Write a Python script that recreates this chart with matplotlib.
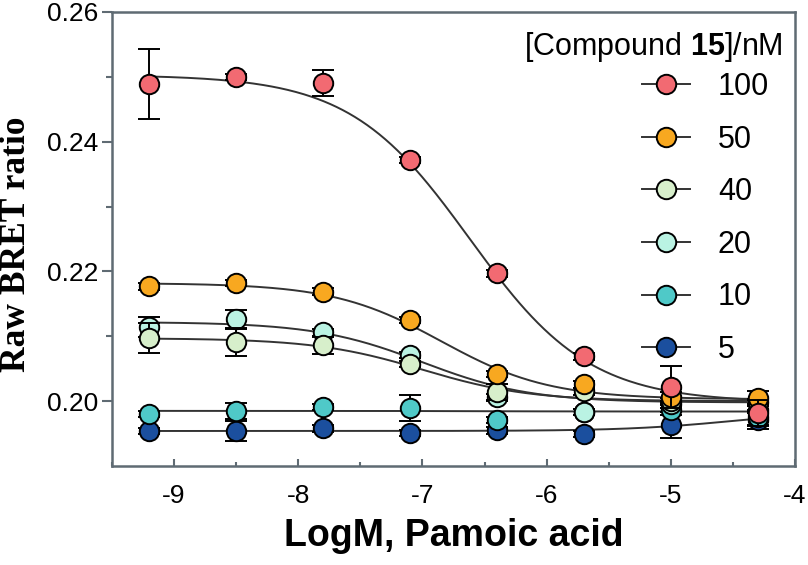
import numpy as np
import matplotlib
matplotlib.use('Agg')
import matplotlib.pyplot as plt
from matplotlib.lines import Line2D

plt.rcParams['font.family'] = ['Liberation Sans', 'DejaVu Sans']
plt.rcParams['mathtext.fontset'] = 'custom'
plt.rcParams['mathtext.rm'] = 'Liberation Sans'
plt.rcParams['mathtext.bf'] = 'Liberation Sans:bold'

# log concentration of pamoic acid
log_conc = [-9.2, -8.5, -7.8, -7.1, -6.4, -5.7, -5.0, -4.3]

labels = ['100', '50', '40', '20', '10', '5']
colors = ['#f26a72', '#f8a820', '#d7efcb', '#baf3e3', '#4fc9c8', '#1b4f9e']

# mean raw BRET ratio per compound 15 concentration
y_100 = [0.2489, 0.2500, 0.2491, 0.2372, 0.2197, 0.2069, 0.2022, 0.1982]
y_50 = [0.2177, 0.2182, 0.2169, 0.2125, 0.2042, 0.2026, 0.2006, 0.2005]
y_40 = [0.2097, 0.2091, 0.2086, 0.2057, 0.2014, 0.2015, 0.2000, 0.1998]
y_20 = [0.2114, 0.2126, 0.2106, 0.2071, 0.2006, 0.1983, 0.1995, 0.1987]
y_10 = [0.1980, 0.1985, 0.1991, 0.1989, 0.1971, 0.1983, 0.1986, 0.1975]
y_5 = [0.1954, 0.1954, 0.1958, 0.1951, 0.1955, 0.1949, 0.1963, 0.1971]

# error bars (SEM)
e_100 = [0.0054, 0.0005, 0.0020, 0.0005, 0.0005, 0.0005, 0.0032, 0.0020]
e_50 = [0.0005, 0.0005, 0.0005, 0.0005, 0.0005, 0.0005, 0.0008, 0.0010]
e_40 = [0.0023, 0.0022, 0.0013, 0.0005, 0.0012, 0.0005, 0.0005, 0.0005]
e_20 = [0.0015, 0.0014, 0.0005, 0.0005, 0.0005, 0.0005, 0.0005, 0.0005]
e_10 = [0.0005, 0.0012, 0.0005, 0.0020, 0.0005, 0.0005, 0.0008, 0.0012]
e_5 = [0.0005, 0.0016, 0.0005, 0.0005, 0.0005, 0.0005, 0.0020, 0.0014]

# fitted curve parameters: top, bottom, logIC50, hill
fit_100 = [0.2503, 0.1998, -6.62, 0.9]
fit_50 = [0.2182, 0.2003, -6.85, 1.0]
fit_40 = [0.2097, 0.2000, -7.0, 1.0]
fit_20 = [0.2122, 0.1998, -7.0, 1.0]
fit_10 = [0.1985, 0.1984, -6.5, 1.0]
fit_5 = [0.1954, 0.1985, -4.5, 1.0]

ys = [y_100, y_50, y_40, y_20, y_10, y_5]
errs = [e_100, e_50, e_40, e_20, e_10, e_5]
fits = [fit_100, fit_50, fit_40, fit_20, fit_10, fit_5]


def logistic(x, top, bottom, ic50, hill):
    return bottom + (top - bottom) / (1 + 10 ** ((x - ic50) * hill))


fig = plt.figure(figsize=(8.08, 5.65), dpi=100)
ax = fig.add_axes([0.1386, 0.1752, 0.8453, 0.8036])

xs = np.linspace(log_conc[0], log_conc[-1], 300)
for fit in fits:
    ax.plot(xs, logistic(xs, *fit), color='#333333', lw=1.4, zorder=2)

# low concentrations first so the higher ones sit on top
for i in reversed(range(len(labels))):
    z = 3 + (len(labels) - i) * 2
    ax.errorbar(log_conc, ys[i], yerr=errs[i], fmt='none', ecolor='black',
                elinewidth=1.4, capsize=8, capthick=1.4, zorder=z)
    ax.plot(log_conc, ys[i], 'o', ms=14, mfc=colors[i], mec='black',
            mew=1.4, zorder=z + 1)

ax.set_xlim(-9.5, -4)
ax.set_ylim(0.19, 0.26)
ax.set_xticks([-9, -8, -7, -6, -5, -4])
ax.set_xticklabels(['-9', '-8', '-7', '-6', '-5', '-4'])
ax.set_xticks(np.arange(-9.5, -4, 0.5), minor=True)
ax.set_yticks([0.20, 0.22, 0.24, 0.26])
ax.set_yticklabels(['0.20', '0.22', '0.24', '0.26'])
ax.set_yticks([0.21, 0.23, 0.25], minor=True)

for sp in ax.spines.values():
    sp.set_color('#5f6b73')
    sp.set_linewidth(1.8)

ax.tick_params(axis='x', which='major', direction='in', length=5, width=1.5,
               color='#5f6b73', labelsize=19, pad=13)
ax.tick_params(axis='x', which='minor', direction='in', length=3, width=1.5,
               color='#5f6b73')
ax.tick_params(axis='y', which='major', direction='out', length=7, width=1.5,
               color='#5f6b73', labelsize=19, pad=3)
ax.tick_params(axis='y', which='minor', direction='out', length=4, width=1.5,
               color='#5f6b73')

ax.set_xlabel('LogM, Pamoic acid', fontweight='bold', fontsize=27, labelpad=7)
ax.set_ylabel('Raw BRET ratio', family='Liberation Serif', fontweight='bold',
              fontsize=25.5)
ax.yaxis.set_label_coords(-0.116, 0.489)

ax.text(0.982, 0.923, r'[Compound $\mathbf{15}$]/nM', transform=ax.transAxes,
        ha='right', va='center', fontsize=22)

handles = [Line2D([0], [0], color='#333333', lw=1.4, marker='o', ms=14,
                  mfc=c, mec='black', mew=1.4) for c in colors]
ax.legend(handles, labels, loc='upper right', bbox_to_anchor=(0.962, 0.868),
          frameon=False, fontsize=22, handlelength=1.57, handletextpad=0.9,
          labelspacing=0.74, borderpad=0, borderaxespad=0)

fig.savefig('out.png', dpi=100)
